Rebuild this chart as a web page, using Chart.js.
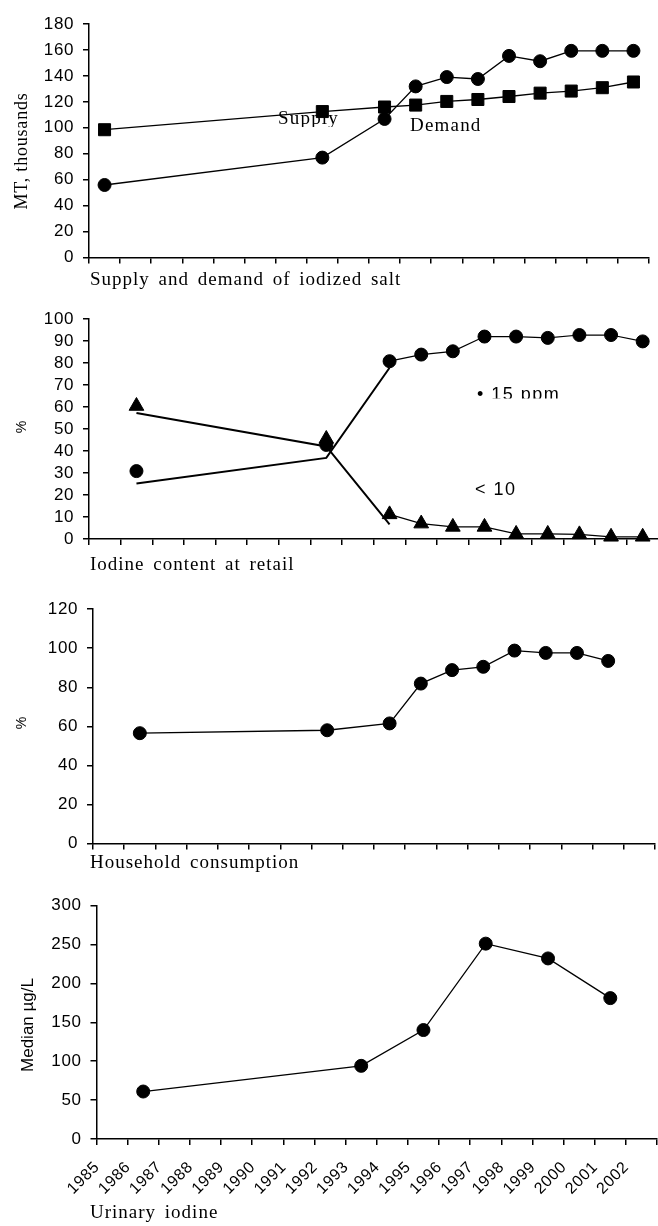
<!DOCTYPE html>
<html>
<head>
<meta charset="utf-8">
<title>Iodized salt indicators</title>
<script src="https://cdn.jsdelivr.net/npm/chart.js@4.4.1/dist/chart.umd.min.js"></script>
<style>
  html, body { margin: 0; background: #fff; overflow: hidden; }
  #wrap { position: relative; width: 658px; height: 1226px; overflow: hidden; }
  #wrap canvas { position: absolute; left: 0; }
</style>
</head>
<body>
<div id="wrap">
  <canvas id="chartSupply"></canvas>
  <canvas id="chartRetail"></canvas>
  <canvas id="chartHousehold"></canvas>
  <canvas id="chartUrinary"></canvas>
</div>
<script>
'use strict';

/* ── Data ── */
const years = ['1985', '1986', '1987', '1988', '1989', '1990', '1991', '1992', '1993',
               '1994', '1995', '1996', '1997', '1998', '1999', '2000', '2001', '2002'];

// Supply and demand of iodized salt, MT thousands
const supply = [98.5, null, null, null, null, null, null, 112.5, null, 116, 117.5, 120.3, 121.8, 124.1, 126.7, 128.3, 130.9, 135.3];
const demand = [55.9, null, null, null, null, null, null, 77, null, 106.8, 131.9, 139.1, 137.6, 155.4, 151.3, 159.3, 159.3, 159.3];

// Iodine content at retail, %
const ppm15 = [null, 30.9, null, null, null, null, null, 42.8, null, 80.9, 83.9, 85.4, 92.1, 92.1, 91.5, 92.8, 92.8, 89.9];
const under10 = [null, 60.5, null, null, null, null, null, 45.5, null, 11.2, 7, 5.5, 5.5, 2.3, 2.3, 2.1, 1, 1];
// hand-drawn connector lines of the early surveys
const ppm15Trend = [null, 25.2, null, null, null, null, null, 36.9, null, 77.9, null, null, null, null, null, null, null, null];
const under10Trend = [null, 57.3, null, null, null, null, null, 42.1, null, 6.7, null, null, null, null, null, null, null, null];

// Household consumption, %
const household = [null, 56.5, null, null, null, null, null, 58, null, 61.5, 81.9, 88.8, 90.5, 98.8, 97.6, 97.6, 93.5, null];

// Urinary iodine, median µg/L
const urinary = [null, 61, null, null, null, null, null, null, 94, null, 140, null, 251, null, 232, null, 181, null];

/* ── Global look ── */
Chart.defaults.font.family = "'Liberation Sans', Arial, sans-serif";
Chart.defaults.color = '#000';
Chart.defaults.animation = false;

const SERIF = "'Liberation Serif', 'Times New Roman', serif";
const SANS = "'Liberation Sans', Arial, sans-serif";
const CANVAS_W = 700;

/* ── Free text (axis titles, captions, in-plot labels) ── */
const panelText = {
  id: 'panelText',
  beforeDraw(chart) {
    // the scanned figure has slightly wide lettering
    chart.ctx.letterSpacing = '0.6px';
  },
  afterDraw(chart, args, opts) {
    const ctx = chart.ctx;
    (opts.items || []).forEach((t) => {
      ctx.save();
      ctx.font = t.font;
      ctx.fillStyle = '#000';
      ctx.letterSpacing = (t.spacing || 0) + 'px';
      ctx.wordSpacing = (t.word || 0) + 'px';
      ctx.textAlign = t.align || 'left';
      ctx.textBaseline = t.baseline || 'alphabetic';
      if (t.clipY != null) {
        ctx.beginPath();
        ctx.rect(0, 0, chart.width, t.clipY - opts.top);
        ctx.clip();
      }
      ctx.translate(t.x, t.y - opts.top);
      if (t.rotate) ctx.rotate(t.rotate);
      ctx.fillText(t.text, 0, 0);
      ctx.restore();
    });
  },
};

const caption = (text, y) => ({ text, x: 90, y, font: `19px ${SERIF}`, spacing: 1.0, word: 3 });
const yTitle = (text, x, y, font, spacing = 0) =>
  ({ text, x, y, font, spacing, rotate: -Math.PI / 2, align: 'center', baseline: 'middle' });

/* ── Shared builders ── */
const line = (data, pointStyle, radius, extra = {}) => ({
  data,
  borderColor: '#000',
  borderWidth: 1.3,
  pointStyle,
  pointRadius: radius,
  pointHoverRadius: radius,
  pointBackgroundColor: '#000',
  pointBorderColor: '#000',
  pointBorderWidth: 1,
  spanGaps: true,
  tension: 0,
  clip: false,
  ...extra,
});

const makePanel = (canvasId, box, yMax, yStep, datasets, texts, showYears = false) => {
  const el = document.getElementById(canvasId);
  el.width = CANVAS_W;
  el.height = box.height;
  el.style.top = box.top + 'px';

  const padTop = box.areaTop - box.top;
  const padBottom = box.height - box.axisH - (box.areaBottom - box.top);

  return new Chart(el, {
    type: 'line',
    data: { labels: years, datasets },
    options: {
      responsive: false,
      animation: false,
      events: [],
      layout: { padding: { top: padTop, bottom: padBottom, left: 0, right: CANVAS_W - box.right } },
      scales: {
        x: {
          type: 'category',
          offset: true,
          grid: { offset: true, drawOnChartArea: false, tickLength: 6, color: '#000', lineWidth: 1.5 },
          border: { color: '#000', width: 1.5 },
          ticks: {
            display: showYears,
            autoSkip: false,
            minRotation: 45,
            maxRotation: 45,
            padding: 13,
            labelOffset: -15,
            color: '#000',
            font: { size: 16 },
          },
          afterFit: (s) => { s.height = box.axisH; },
        },
        y: {
          min: 0,
          max: yMax,
          ticks: { stepSize: yStep, autoSkip: false, padding: 9, color: '#000', font: { size: 17 } },
          grid: { drawOnChartArea: false, tickLength: 6, color: '#000', lineWidth: 1.5 },
          border: { color: '#000', width: 1.5 },
          afterFit: (s) => { s.width = box.left; },
        },
      },
      plugins: {
        legend: { display: false },
        tooltip: { enabled: false },
        panelText: { top: box.top, items: texts },
      },
    },
    plugins: [panelText],
  });
};

/* ── Panel boxes (page pixels) ── */
const boxes = {
  supply:    { top: 0,   height: 300, left: 89,   right: 649,   areaTop: 24,    areaBottom: 257.5, axisH: 6 },
  retail:    { top: 300, height: 290, left: 89,   right: 658.5, areaTop: 316,   areaBottom: 539,   axisH: 6 },
  household: { top: 590, height: 295, left: 93,   right: 655,   areaTop: 603.5, areaBottom: 843.5, axisH: 6 },
  urinary:   { top: 885, height: 341, left: 96.5, right: 657,   areaTop: 905.5, areaBottom: 1139,  axisH: 70 },
};

/* ── Build the four panels ── */
makePanel('chartSupply', boxes.supply, 180, 20, [
  line(supply, 'rect', 8.5),
  line(demand, 'circle', 6.5),
], [
  yTitle('MT, thousands', 22, 151, `18px ${SERIF}`, 0.8),
  { text: 'Supply', x: 278, y: 124.3, font: `19px ${SERIF}`, spacing: 1.2, clipY: 127 },
  { text: 'Demand', x: 410, y: 131, font: `19px ${SERIF}`, spacing: 1.2 },
  caption('Supply and demand of iodized salt', 285.3),
]);

makePanel('chartRetail', boxes.retail, 100, 10, [
  line(under10, 'triangle', 8.5, { spanGaps: false, borderWidth: 1.2 }),
  line(ppm15, 'circle', 6.5, { spanGaps: false, borderWidth: 1.2 }),
  line(under10Trend, 'circle', 0, { borderWidth: 2 }),
  line(ppm15Trend, 'circle', 0, { borderWidth: 2 }),
], [
  yTitle('%', 22, 427, `14px ${SANS}`),
  { text: '• 15 ppm', x: 477, y: 399.5, font: `18px ${SANS}`, spacing: 1.5, clipY: 398.5 },
  { text: '< 10', x: 475, y: 494.6, font: `18px ${SANS}`, spacing: 1.5, clipY: 495 },
  caption('Iodine content at retail', 569.5),
]);

makePanel('chartHousehold', boxes.household, 120, 20, [
  line(household, 'circle', 6.5),
], [
  yTitle('%', 22, 723, `14px ${SANS}`),
  caption('Household consumption', 867.6),
]);

makePanel('chartUrinary', boxes.urinary, 300, 50, [
  line(urinary, 'circle', 6.5),
], [
  yTitle('Median µg/L', 28, 1025, `17px ${SANS}`),
  caption('Urinary iodine', 1217.6),
], true);
</script>
</body>
</html>
